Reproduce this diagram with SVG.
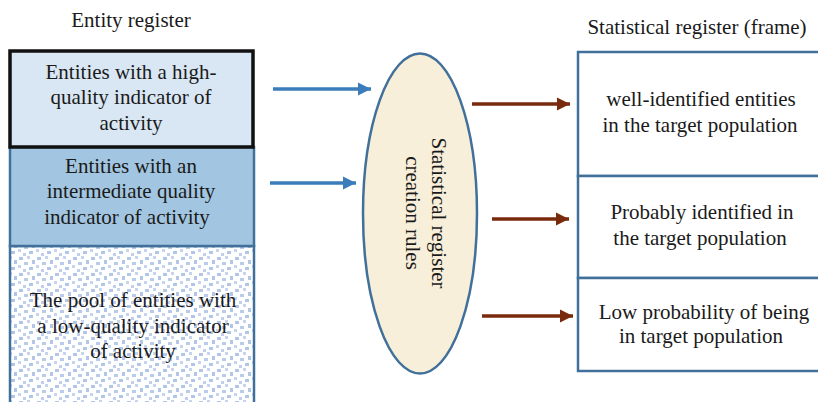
<svg xmlns="http://www.w3.org/2000/svg" width="818" height="402" viewBox="0 0 818 402">
  <style>
    .t { font-family: "Liberation Serif", "Times New Roman", serif; font-size: 21px; fill: #1a1a1a; text-anchor: middle; }
    .box { stroke: #41709a; stroke-width: 2.5; }
    .blue { stroke: #3a7dba; stroke-width: 3.5; fill: none; }
    .brown { stroke: #7a2a0c; stroke-width: 3.5; fill: none; }
  </style>
  <defs>
    <!-- scattered small squares for the low-quality pool -->
    <pattern id="dots" width="18" height="16" patternUnits="userSpaceOnUse">
      <rect width="18" height="16" fill="#ffffff"/>
      <rect x="1" y="1" width="4" height="3" fill="#b2c6e8"/>
      <rect x="9" y="0" width="3" height="3" fill="#c6d4ee"/>
      <rect x="14" y="4" width="3" height="4" fill="#b2c6e8"/>
      <rect x="6" y="6" width="4" height="3" fill="#b8cbea"/>
      <rect x="0" y="9" width="3" height="3" fill="#c6d4ee"/>
      <rect x="11" y="11" width="4" height="3" fill="#b2c6e8"/>
      <rect x="5" y="13" width="3" height="3" fill="#c0d0ec"/>
    </pattern>
    <marker id="ahBlue" viewBox="0 0 10 10" refX="10" refY="5" markerWidth="3.8" markerHeight="3.8" orient="auto" markerUnits="strokeWidth">
      <path d="M0,0 L10,5 L0,10 z" fill="#3a7dba"/>
    </marker>
    <marker id="ahBrown" viewBox="0 0 10 10" refX="10" refY="5" markerWidth="3.8" markerHeight="3.8" orient="auto" markerUnits="strokeWidth">
      <path d="M0,0 L10,5 L0,10 z" fill="#7a2a0c"/>
    </marker>
  </defs>

  <!-- headings -->
  <text class="t" x="131" y="27">Entity register</text>
  <text class="t" x="697" y="34">Statistical register (frame)</text>

  <!-- entity register column -->
  <g id="pool-low">
    <rect class="box" x="10" y="246" width="244" height="170" fill="url(#dots)"/>
    <text class="t" x="133" y="307">The pool of entities with</text>
    <text class="t" x="133" y="333">a low-quality indicator</text>
    <text class="t" x="133" y="358">of activity</text>
  </g>
  <g id="pool-intermediate">
    <rect class="box" x="10" y="147" width="244" height="99" fill="#a2c6e1"/>
    <text class="t" x="131" y="173">Entities with an</text>
    <text class="t" x="131" y="198">intermediate quality</text>
    <text class="t" x="127" y="224">indicator of activity</text>
  </g>
  <g id="pool-high">
    <rect x="10" y="51" width="243" height="96" fill="#d9e7f4" stroke="#111111" stroke-width="3.5"/>
    <text class="t" x="131" y="79">Entities with a high-</text>
    <text class="t" x="131" y="104">quality indicator of</text>
    <text class="t" x="131" y="130">activity</text>
  </g>

  <!-- rules -->
  <g id="rules">
    <ellipse cx="420" cy="213.5" rx="57" ry="160" fill="#f7efd9" stroke="#41709a" stroke-width="2.5"/>
    <g transform="translate(420,213) rotate(90)">
      <text class="t" x="0" y="-12">Statistical register</text>
      <text class="t" x="0" y="14">creation rules</text>
    </g>
  </g>

  <!-- statistical register column -->
  <g id="frame-well">
    <rect class="box" x="578" y="52" width="260" height="124" fill="#ffffff"/>
    <text class="t" x="701" y="106">well-identified entities</text>
    <text class="t" x="700" y="132">in the target population</text>
  </g>
  <g id="frame-probable">
    <rect class="box" x="578" y="176" width="260" height="102" fill="#ffffff"/>
    <text class="t" x="702" y="219">Probably identified in</text>
    <text class="t" x="700" y="245">the target population</text>
  </g>
  <g id="frame-low">
    <rect class="box" x="578" y="278" width="260" height="93" fill="#ffffff"/>
    <text class="t" x="704" y="319">Low probability of being</text>
    <text class="t" x="701" y="343">in target population</text>
  </g>

  <!-- connectors -->
  <g id="connectors">
    <line class="blue" x1="273" y1="89" x2="371" y2="89" marker-end="url(#ahBlue)"/>
    <line class="blue" x1="270" y1="183" x2="356" y2="183" marker-end="url(#ahBlue)"/>
    <line class="brown" x1="472" y1="104" x2="570" y2="104" marker-end="url(#ahBrown)"/>
    <line class="brown" x1="492" y1="219" x2="569" y2="219" marker-end="url(#ahBrown)"/>
    <line class="brown" x1="482" y1="316" x2="573" y2="316" marker-end="url(#ahBrown)"/>
  </g>
</svg>
